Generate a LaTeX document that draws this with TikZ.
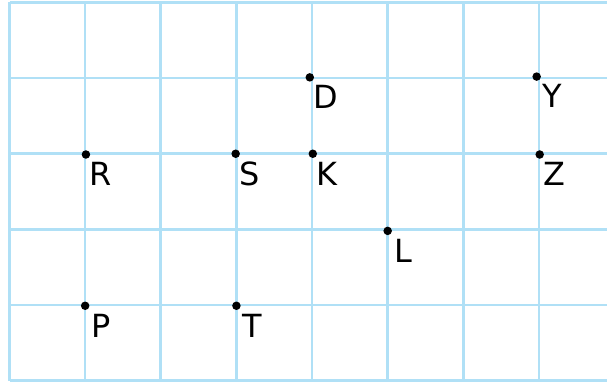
\documentclass[tikz,border=0pt]{standalone}
\usepackage{fontspec}
\setmainfont{DejaVu Sans}
\usetikzlibrary{calc}
\definecolor{gridblue}{RGB}{176,224,246}
\tikzset{every picture/.style={>=latex}}

\begin{document}
\begin{tikzpicture}[
    gridline/.style={draw=gridblue, line width=1pt},
    ptlabel/.style={font=\fontsize{12}{14}\selectfont, inner sep=0pt}
]
\useasboundingbox (-0.126,-0.046) rectangle (7.90,5.033);

% ------------------------------------------------------------
% Grid
% ------------------------------------------------------------
\foreach \x in {0,...,7}
  \draw[gridline] (\x,0) -- (\x,5);
\foreach \y in {0,...,5}
  \draw[gridline] (0,\y) -- (7.90,\y);

% ------------------------------------------------------------
% Points
% ------------------------------------------------------------
\coordinate (D) at (3.97,4.01);
\coordinate (Y) at (6.97,4.02);
\coordinate (R) at (1.01,2.99);
\coordinate (S) at (2.99,3.00);
\coordinate (K) at (4.01,3.00);
\coordinate (Z) at (7.01,2.99);
\coordinate (L) at (5.00,1.98);
\coordinate (P) at (1.00,0.99);
\coordinate (T) at (3.00,0.99);

\foreach \p in {D,Y,R,S,K,Z,L,P,T}
  \fill (\p) circle (1.6pt);

% ------------------------------------------------------------
% Labels
% ------------------------------------------------------------
\node[ptlabel] (labD) at ($(D)+(0.21,-0.26)$) {D};
\node[ptlabel] (labY) at ($(Y)+(0.21,-0.26)$) {Y};
\node[ptlabel] (labR) at ($(R)+(0.19,-0.26)$) {R};
\node[ptlabel] (labS) at ($(S)+(0.19,-0.26)$) {S};
\node[ptlabel] (labK) at ($(K)+(0.19,-0.26)$) {K};
\node[ptlabel] (labZ) at ($(Z)+(0.19,-0.26)$) {Z};
\node[ptlabel] (labL) at ($(L)+(0.21,-0.27)$) {L};
\node[ptlabel] (labP) at ($(P)+(0.21,-0.27)$) {P};
\node[ptlabel] (labT) at ($(T)+(0.21,-0.27)$) {T};

\end{tikzpicture}
\end{document}
